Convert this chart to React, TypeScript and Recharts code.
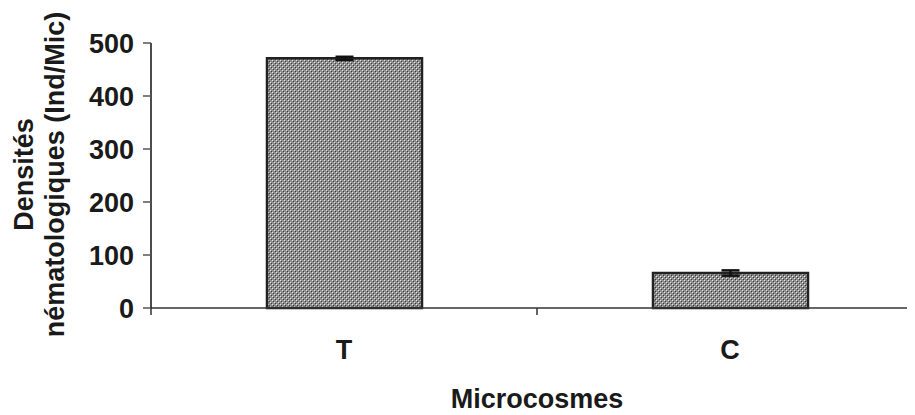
import { BarChart, Bar, XAxis, YAxis, ErrorBar } from "recharts";

const categories = ["T", "C"];
const densities = [471, 66];
const errors = [3, 5];
const yTicks = [0, 100, 200, 300, 400, 500];

const data = categories.map((name, i) => ({ name, value: densities[i], err: errors[i] }));

const FONT = "'Liberation Sans', Arial, sans-serif";

function CategoryTick(props: any) {
  const { x, y, payload, index, visibleTicksCount } = props;
  const half = payload?.offset ?? 193;
  const last = index === (visibleTicksCount ?? categories.length) - 1;
  return (
    <g>
      <line x1={x - half} y1={y} x2={x - half} y2={y + 7} stroke="#333" strokeWidth={1.5} />
      {last && <line x1={x + half} y1={y} x2={x + half} y2={y + 7} stroke="#333" strokeWidth={1.5} />}
      <text x={x} y={y + 51} textAnchor="middle" fontFamily={FONT} fontWeight="bold" fontSize={27} fill="#1a1a1a">
        {payload.value}
      </text>
    </g>
  );
}

function YLabel(props: any) {
  const { viewBox } = props;
  const cy = viewBox.y + viewBox.height / 2 - 1;
  const common = { textAnchor: "middle" as const, fontFamily: FONT, fontWeight: "bold", fontSize: 27, fill: "#1a1a1a" };
  return (
    <g>
      <text x={25} y={cy} transform={`rotate(-90, 25, ${cy})`} {...common}>Densités</text>
      <text x={56} y={cy} transform={`rotate(-90, 56, ${cy})`} {...common}>nématologiques (Ind/Mic)</text>
    </g>
  );
}

function XLabel(props: any) {
  const { viewBox } = props;
  return (
    <text x={viewBox.x + viewBox.width / 2} y={viewBox.y + 100} textAnchor="middle" fontFamily={FONT} fontWeight="bold" fontSize={27} fill="#1a1a1a">
      Microcosmes
    </text>
  );
}

export default function App() {
  return (
    <div style={{ width: 907, height: 407, overflow: "hidden" }}>
      <BarChart width={920} height={407} data={data} margin={{ top: 35, right: 5, bottom: 0, left: 0 }}>
        <defs>
          <pattern id="dots" patternUnits="userSpaceOnUse" width={4} height={4}>
            <rect width={4} height={4} fill="#8e8e8e" />
            <rect x={0} y={0} width={1} height={1} fill="#e8e8e8" />
            <rect x={2} y={2} width={1} height={1} fill="#e8e8e8" />
            <rect x={1} y={1} width={1} height={1} fill="#3a3a3a" />
            <rect x={3} y={3} width={1} height={1} fill="#3a3a3a" />
          </pattern>
        </defs>
        <XAxis
          dataKey="name"
          height={107}
          tickLine={false}
          tickSize={0}
          tickMargin={0}
          axisLine={{ stroke: "#333", strokeWidth: 1.5 }}
          tick={<CategoryTick />}
          interval={0}
          label={<XLabel />}
        />
        <YAxis
          width={143}
          domain={[0, 500]}
          ticks={yTicks}
          tickSize={8}
          tickMargin={9}
          axisLine={{ stroke: "#111", strokeWidth: 1.5 }}
          tickLine={{ stroke: "#555", strokeWidth: 1.5 }}
          tick={{ fontFamily: FONT, fontWeight: "bold", fontSize: 27, fill: "#1a1a1a" }}
          label={<YLabel />}
        />
        <Bar dataKey="value" barSize={155} fill="url(#dots)" stroke="#222" strokeWidth={2.5} isAnimationActive={false}>
          <ErrorBar dataKey="err" width={9} stroke="#111" strokeWidth={2.5} isAnimationActive={false} />
        </Bar>
      </BarChart>
    </div>
  );
}
